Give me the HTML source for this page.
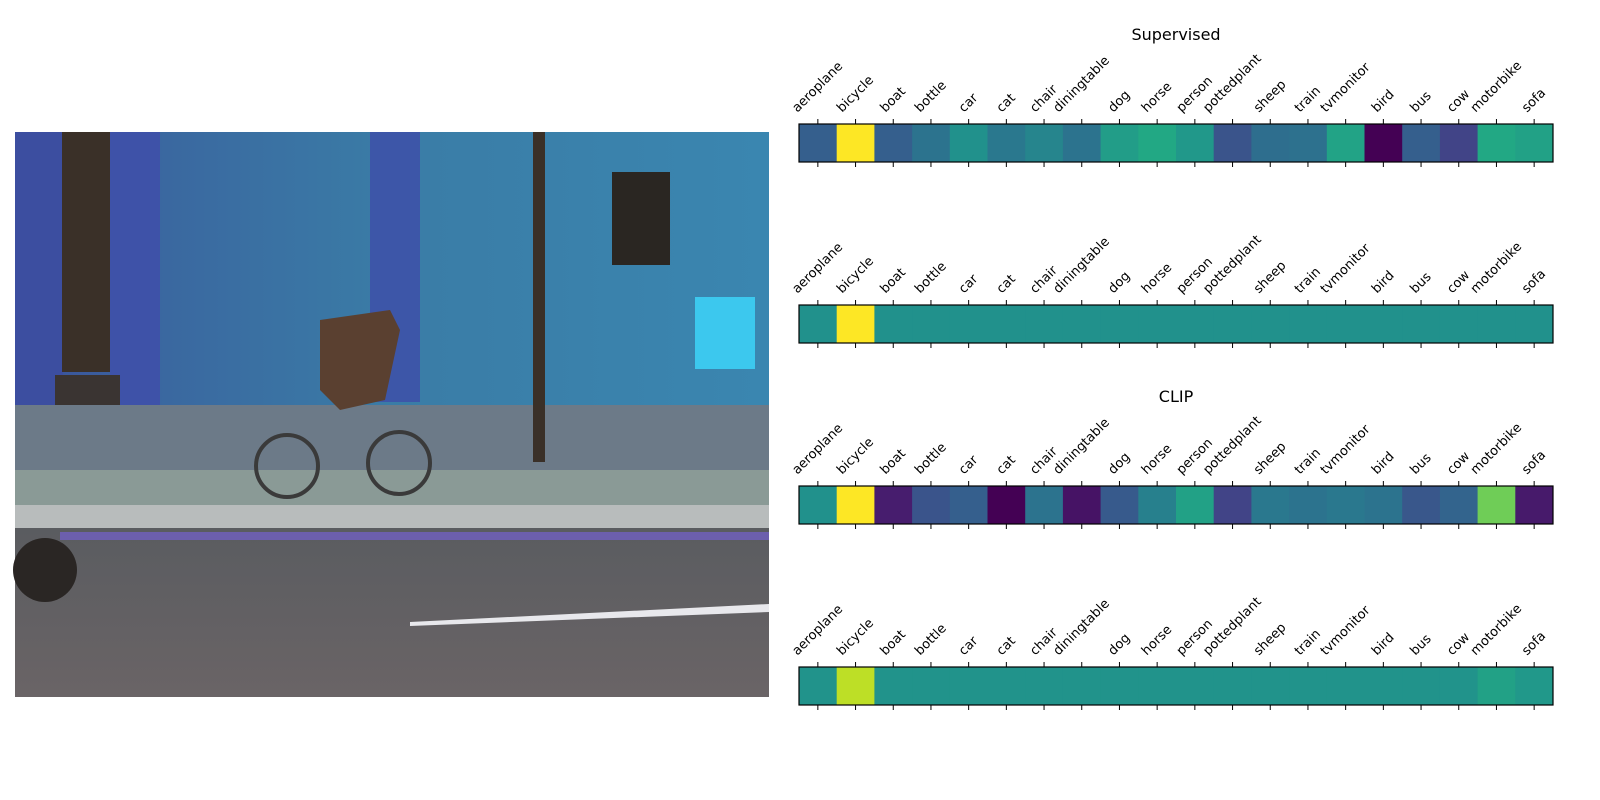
<!DOCTYPE html>
<html><head><meta charset="utf-8"><style>
html,body{margin:0;padding:0;background:#fff;width:1600px;height:800px;overflow:hidden}
svg{display:block;font-family:"DejaVu Sans","Liberation Sans",sans-serif}
</style></head><body>
<svg id="fig" width="1600" height="800">
<defs>
<linearGradient id="wall" x1="0" y1="0" x2="1" y2="0">
<stop offset="0" stop-color="#3a4f9a"/><stop offset="0.2" stop-color="#3a68a0"/><stop offset="0.5" stop-color="#3a7ca6"/><stop offset="1" stop-color="#3a86b0"/></linearGradient>
<linearGradient id="road" x1="0" y1="0" x2="0" y2="1">
<stop offset="0" stop-color="#5a5c60"/><stop offset="1" stop-color="#6a6466"/></linearGradient>
</defs>
<g>
<rect x="15" y="132" width="754" height="565" fill="url(#wall)"/>
<rect x="15" y="132" width="48" height="280" fill="#3c4ea0"/>
<rect x="62" y="132" width="48" height="240" fill="#3a3028"/>
<rect x="110" y="132" width="50" height="280" fill="#3e52a8"/>
<rect x="370" y="132" width="50" height="270" fill="#3d56a8"/>
<rect x="612" y="172" width="58" height="93" fill="#2a2622"/>
<rect x="695" y="297" width="60" height="72" fill="#3cc8ee"/>
<rect x="55" y="375" width="65" height="82" fill="#3a3432"/>
<rect x="15" y="405" width="754" height="70" fill="#6c7a88"/>
<rect x="15" y="470" width="754" height="40" fill="#8a9a96"/>
<rect x="15" y="505" width="754" height="25" fill="#b8bcbc"/>
<rect x="15" y="528" width="754" height="169" fill="url(#road)"/>
<rect x="60" y="532" width="709" height="8" fill="#7060c0" opacity="0.8"/>
<polygon points="410,622 769,604 769,612 410,626" fill="#e8e8ec"/>
<rect x="533" y="132" width="12" height="330" fill="#3a3028"/>
<circle cx="287" cy="466" r="31" fill="none" stroke="#3a3a3a" stroke-width="4"/>
<circle cx="399" cy="463" r="31" fill="none" stroke="#3a3a3a" stroke-width="4"/>
<path d="M320 320 L390 310 L400 330 L385 400 L340 410 L320 390 Z" fill="#5a4030"/>
<circle cx="45" cy="570" r="32" fill="#2a2624"/>
</g>
<g id="charts"></g>
</svg>
<script>
const categories=["aeroplane","bicycle","boat","bottle","car","cat","chair","diningtable","dog","horse","person","pottedplant","sheep","train","tvmonitor","bird","bus","cow","motorbike","sofa"];
const row1Values=[0.30,1.00,0.30,0.38,0.50,0.40,0.45,0.38,0.55,0.60,0.53,0.26,0.36,0.37,0.58,0.00,0.30,0.20,0.60,0.57];
const row2Values=[0.50,1.00,0.50,0.50,0.50,0.50,0.50,0.50,0.50,0.50,0.50,0.50,0.50,0.50,0.50,0.50,0.50,0.50,0.50,0.50];
const row3Values=[0.50,1.00,0.08,0.26,0.30,0.00,0.38,0.05,0.28,0.43,0.57,0.20,0.40,0.38,0.40,0.38,0.27,0.32,0.78,0.07];
const row4Values=[0.51,0.90,0.51,0.51,0.51,0.51,0.51,0.51,0.51,0.51,0.51,0.51,0.51,0.51,0.51,0.51,0.51,0.51,0.57,0.53];
const rowTitles=["Supervised","","CLIP",""];
const rows=[row1Values,row2Values,row3Values,row4Values];
const VIR=["#440154","#482475","#414487","#355f8d","#2a788e","#21918c","#22a884","#44bf70","#7ad151","#bddf26","#fde725"];
function hx(c){return [1,3,5].map(i=>parseInt(c.substr(i,2),16));}
function viridis(v){v=Math.max(0,Math.min(1,v));const p=v*10,i=Math.min(9,Math.floor(p)),t=p-i;const a=hx(VIR[i]),b=hx(VIR[i+1]);return "rgb("+a.map((x,k)=>Math.round(x+(b[k]-x)*t)).join(",")+")";}
const NS="http://www.w3.org/2000/svg";
const g=document.getElementById("charts");
const X0=799,X1=1553,rowTops=[124,305,486,667],H=38;
const cw=(X1-X0)/categories.length;
function xScale(i){return X0+i*cw;}
function mk(tag,attrs,parent){const e=document.createElementNS(NS,tag);for(const k in attrs)e.setAttribute(k,attrs[k]);parent.appendChild(e);return e;}
rows.forEach((vals,r)=>{
  const y=rowTops[r];
  const grp=mk("g",{},g);
  
  
  vals.forEach((v,i)=>{
    const c=mk("rect",{x:xScale(i),y:y,width:cw+0.5,height:H,fill:viridis(v)},grp);
    
    
  });
  const f=mk("rect",{x:X0,y:y,width:X1-X0,height:H,fill:"none",stroke:"#000","stroke-width":1.2},grp);
  
  
  categories.forEach((c,i)=>{
    const tx=xScale(i)+cw/2;
    mk("line",{x1:tx,x2:tx,y1:y,y2:y-5,stroke:"#000","stroke-width":1},grp);
    mk("line",{x1:tx,x2:tx,y1:y+H,y2:y+H+5,stroke:"#000","stroke-width":1},grp);
    const t=mk("text",{x:0,y:0,"font-size":"13","text-anchor":"middle","dominant-baseline":"central",fill:"#000"},grp);
    t.textContent=c;
    
    
    const L=t.getComputedTextLength();
    const w=(L+13)*0.7071;
    t.setAttribute("transform","translate("+tx+","+(y-9-w/2)+") rotate(-45)");
  });
  if(rowTitles[r]){
    const tt=mk("text",{x:(X0+X1)/2,y:y-84,"font-size":"16","text-anchor":"middle",fill:"#000"},grp);
    tt.textContent=rowTitles[r];
    
    
  }
});
</script>
</body></html>
